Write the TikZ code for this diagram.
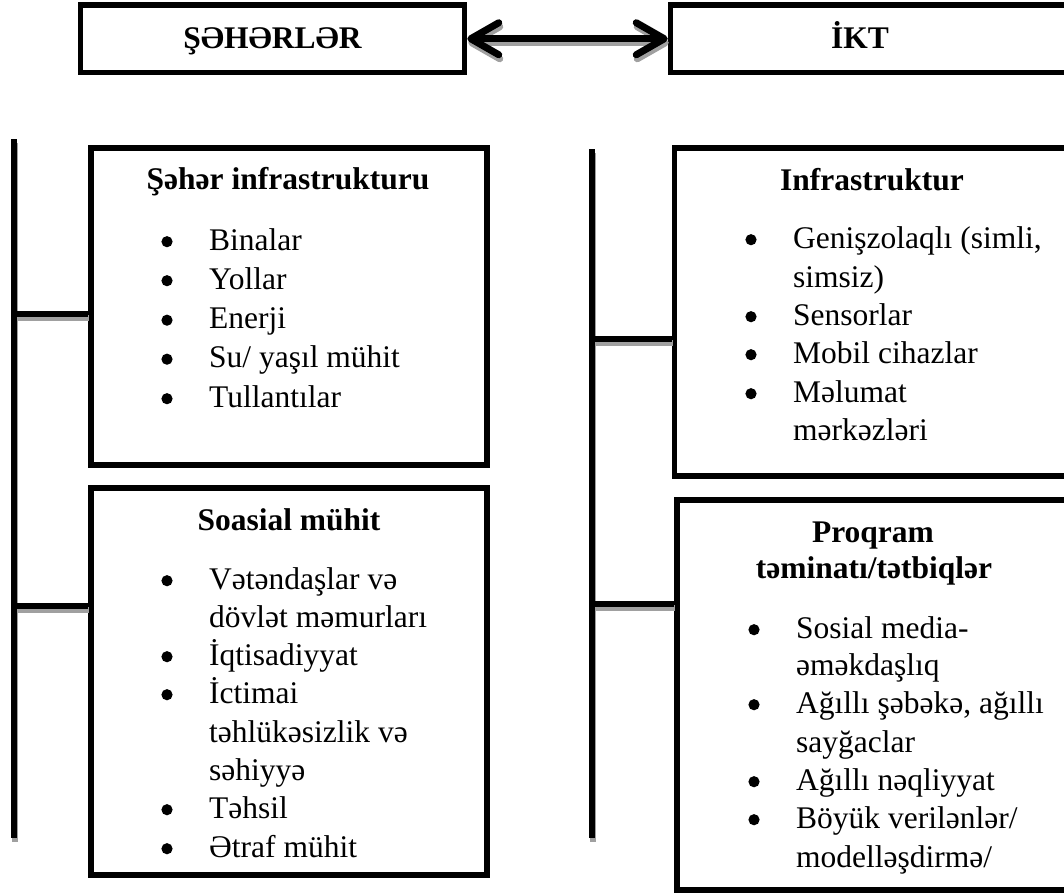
\documentclass[tikz,border=0pt]{standalone}
\usepackage{fontspec}
\setmainfont{Liberation Serif}
\usetikzlibrary{arrows.meta}
\definecolor{shadowgray}{RGB}{160,160,160}
\newcommand{\connlinks}{%
  \draw[conn] (lt) -- (lb);
  \draw[conn] (rt) -- (rb);
  \draw[conn] (j1) -- (j1 -| b1.west);
  \draw[conn] (j2) -- (j2 -| b2.west);
  \draw[conn] (j3) -- (j3 -| b3.west);
  \draw[conn] (j4) -- (j4 -| b4.west);
  \draw[conn, line width=7pt, {Straight Barb[length=28pt,width=32pt,line cap=round,line join=round]}-{Straight Barb[length=28pt,width=32pt,line cap=round,line join=round]}] (cities.east) -- (ikt.west);
}
% bulleted line: name, x, baseline y, text
\newcommand{\bitem}[4]{%
  \fill ([shift={(-42,-8.3)}]#2,#3) circle (5.6pt);
  \node[itm] (#1) at (#2,#3) {#4};
}
\begin{document}
\begin{tikzpicture}[x=1pt,y=-1pt,
  frame/.style={draw, line width=5.5pt, rectangle, inner sep=0pt},
  conn/.style={line width=6.5pt},
  txt/.style={inner sep=0pt, font=\fontsize{31.5pt}{39pt}\selectfont},
  ttl/.style={txt, anchor=base, font=\fontsize{31.5pt}{39pt}\selectfont\bfseries},
  itm/.style={txt, anchor=base west}]
\useasboundingbox (0,0) rectangle (1064,894);
\clip (0,0) rectangle (1064,894);
\fill[white] (0,0) rectangle (1064,894);

% frames
\node[frame, minimum width=384pt, minimum height=67.5pt] (cities) at (272.5,38.75) {};
\node[frame, minimum width=409.5pt, minimum height=67.5pt] (ikt) at (875.25,38.75) {};
\node[frame, minimum width=396pt, minimum height=317pt] (b1) at (289,306.5) {};
\node[frame, minimum width=396pt, minimum height=387pt] (b2) at (289,681.5) {};
\node[frame, minimum width=400.5pt, minimum height=328pt] (b3) at (874.75,312) {};
\node[frame, minimum width=400pt, minimum height=390pt] (b4) at (877,695) {};

% connector points
\coordinate (lt) at (14,139);
\coordinate (lb) at (14,838);
\coordinate (rt) at (592,149);
\coordinate (rb) at (592,838);
\coordinate (j1) at (14,314);
\coordinate (j2) at (14,606);
\coordinate (j3) at (592,339);
\coordinate (j4) at (592,604);

\begin{scope}[transform canvas={xshift=1pt,yshift=-4pt}, shadowgray]
  \connlinks
\end{scope}
\connlinks

% titles
\node[ttl] (tc) at (272.5,48) {ŞƏHƏRLƏR};
\node[ttl] (ti) at (860,48) {İKT};

% box 1
\node[ttl] (h1) at (288,189) {Şəhər infrastrukturu};
\bitem{a1}{209}{250}{Binalar}
\bitem{a2}{209}{289}{Yollar}
\bitem{a3}{209}{328.5}{Enerji}
\bitem{a4}{209}{367.5}{Su/ yaşıl mühit}
\bitem{a5}{209}{407}{Tullantılar}

% box 2
\node[ttl] (h2) at (289,530) {Soasial mühit};
\bitem{c1}{209}{589}{Vətəndaşlar və}
\node[itm] (c2) at (209,627) {dövlət məmurları};
\bitem{c3}{209}{665}{İqtisadiyyat}
\bitem{c4}{209}{703}{İctimai}
\node[itm] (c5) at (209,742) {təhlükəsizlik və};
\node[itm] (c6) at (209,780) {səhiyyə};
\bitem{c7}{209}{818}{Təhsil}
\bitem{c8}{209}{857}{Ətraf mühit}

% box 3
\node[ttl] (h3) at (872,190) {Infrastruktur};
\bitem{d1}{793}{248}{Genişzolaqlı (simli,}
\node[itm] (d2) at (793,287) {simsiz)};
\bitem{d3}{793}{325}{Sensorlar}
\bitem{d4}{793}{363}{Mobil cihazlar}
\bitem{d5}{793}{402}{Məlumat}
\node[itm] (d6) at (793,440) {mərkəzləri};

% box 4
\node[ttl] (h4a) at (873,542) {Proqram};
\node[ttl] (h4b) at (874,578) {təminatı/tətbiqlər};
\bitem{e1}{796}{638}{Sosial media-}
\node[itm] (e2) at (796,675) {əməkdaşlıq};
\bitem{e3}{796}{713}{Ağıllı şəbəkə, ağıllı}
\node[itm] (e4) at (796,752) {sayğaclar};
\bitem{e5}{796}{790}{Ağıllı nəqliyyat}
\bitem{e6}{796}{828}{Böyük verilənlər/}
\node[itm] (e7) at (796,867) {modelləşdirmə/};
\end{tikzpicture}
\end{document}
